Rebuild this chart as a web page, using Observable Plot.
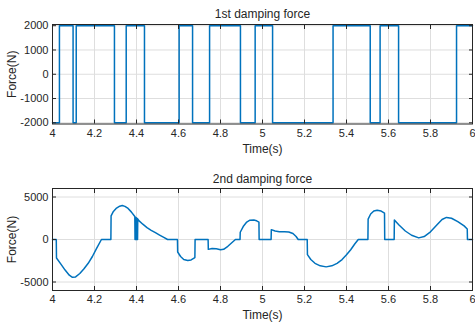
<!DOCTYPE html>
<html>
<head>
<meta charset="utf-8">
<script src="https://cdn.jsdelivr.net/npm/d3@7"></script>
<script src="https://cdn.jsdelivr.net/npm/@observablehq/plot@0.6"></script>
<style>
  html, body { margin: 0; padding: 0; background: white; }
  svg { display: block; }
</style>
</head>
<body>
<div id="chart"></div>
<script>
// ---- Data ----
const xTicks = [4, 4.2, 4.4, 4.6, 4.8, 5, 5.2, 5.4, 5.6, 5.8, 6];
const y1Ticks = [-2000, -1000, 0, 1000, 2000];
const y2Ticks = [-5000, 0, 5000];

// 1st damping force (step signal): switching times and levels
const t1 = [4, 4.033, 4.098, 4.113, 4.295, 4.351, 4.438, 4.603, 4.667, 4.748, 4.895, 4.965, 5.048, 5.336, 5.513, 5.560, 5.648, 5.924, 6];
const v1 = [-2000, 2000, -2000, 2000, -2000, 2000, -2000, 2000, -2000, 2000, -2000, 2000, -2000, 2000, -2000, 2000, -2000, 2000, 2000];

// 2nd damping force
const t2 = [4.000, 4.018, 4.019, 4.040, 4.060, 4.080, 4.095, 4.110, 4.130, 4.150, 4.170, 4.190, 4.210, 4.233,
  4.278, 4.279, 4.290, 4.305, 4.320, 4.332, 4.345, 4.360, 4.375, 4.392,
  4.393, 4.394, 4.395, 4.396, 4.397, 4.398, 4.399, 4.400, 4.401, 4.402, 4.403, 4.404, 4.405, 4.406,
  4.410, 4.430, 4.450, 4.470, 4.490, 4.510, 4.530, 4.548,
  4.595, 4.596, 4.610, 4.625, 4.644, 4.660, 4.678, 4.679,
  4.741, 4.742, 4.760, 4.780, 4.800, 4.815, 4.835, 4.855, 4.871,
  4.893, 4.894, 4.910, 4.925, 4.940, 4.959, 4.972, 4.983, 4.984,
  5.041, 5.042, 5.060, 5.080, 5.105, 5.125, 5.145, 5.160, 5.170,
  5.213, 5.214, 5.230, 5.250, 5.275, 5.303, 5.330, 5.355, 5.379, 5.400, 5.420, 5.440, 5.456,
  5.502, 5.503, 5.515, 5.530, 5.546, 5.565, 5.581, 5.582,
  5.627, 5.628, 5.650, 5.680, 5.710, 5.744, 5.770, 5.800, 5.830, 5.855, 5.876, 5.900, 5.930, 5.960, 5.975, 5.976, 6.000];
const v2 = [0, 0, -2170, -2900, -3600, -4200, -4450, -4400, -4000, -3450, -2800, -2000, -1050, 0,
  0, 2790, 3300, 3700, 3920, 3990, 3900, 3650, 3250, 2700,
  0, 2650, 0, 2620, 0, 2580, 0, 2550, 0, 2500, 0, 2470, 0, 2420,
  2250, 1800, 1400, 1080, 800, 520, 250, 0,
  0, -1470, -2000, -2350, -2480, -2400, -2130, 0,
  0, -1160, -1050, -1100, -1200, -1150, -800, -350, 0,
  0, 850, 1600, 2050, 2270, 2290, 2200, 2050, 0,
  0, 1160, 1000, 920, 900, 880, 700, 350, 0,
  0, -1780, -2350, -2800, -3100, -3220, -3100, -2800, -2360, -1800, -1200, -500, 0,
  0, 2400, 3000, 3350, 3450, 3350, 3100, 0,
  0, 2290, 1700, 1000, 500, 190, 350, 900, 1700, 2350, 2600, 2500, 2100, 1600, 1240, 0, 0];

const data1 = t1.map((t, i) => ({t, v: v1[i]}));
const data2 = t2.map((t, i) => ({t, v: v2[i]}));

const ink = "#262626";
const gridColor = "#dedede";
const lineColor = "#0072BD";
const fmtX = d => String(+d.toFixed(1));
const fmtY = d => String(d);
const blank = () => "";

function panel({data, yDomain, yTicks, title, height, marginTop, marginBottom, curve, titleDy, xLabelOffset}) {
  return Plot.plot({
    width: 475,
    height,
    marginLeft: 52,
    marginRight: 3,
    marginTop,
    marginBottom,
    style: {fontFamily: "'Liberation Sans', Arial, sans-serif", fontSize: "11px", color: ink, background: "white", overflow: "visible"},
    x: {domain: [4, 6]},
    y: {domain: yDomain},
    marks: [
      Plot.gridX(xTicks, {stroke: gridColor, strokeOpacity: 1, strokeWidth: 1}),
      Plot.gridY(yTicks, {stroke: gridColor, strokeOpacity: 1, strokeWidth: 1}),
      Plot.line(data, {x: "t", y: "v", stroke: lineColor, strokeWidth: 1.5, curve}),
      Plot.frame({stroke: ink, strokeWidth: 1}),
      // inward ticks
      Plot.axisX({ticks: xTicks, anchor: "bottom", tickSize: 4, dy: -4, tickFormat: blank, label: null, stroke: ink}),
      Plot.axisX({ticks: xTicks, anchor: "top", tickSize: 4, dy: 4, tickFormat: blank, label: null, stroke: ink}),
      Plot.axisY({ticks: yTicks, anchor: "left", tickSize: 4, dx: 4, tickFormat: blank, label: null, stroke: ink}),
      Plot.axisY({ticks: yTicks, anchor: "right", tickSize: 4, dx: -4, tickFormat: blank, label: null, stroke: ink}),
      // tick labels
      Plot.axisX({ticks: xTicks, anchor: "bottom", tickSize: 0, tickPadding: 5, tickFormat: fmtX, label: null, fill: ink, fontSize: 11}),
      Plot.axisY({ticks: yTicks, anchor: "left", tickSize: 0, tickPadding: 4, tickFormat: fmtY, label: null, fill: ink, fontSize: 11}),
      // axis titles
      Plot.axisX({ticks: xTicks, anchor: "bottom", tickSize: 0, tickFormat: blank, label: "Time(s)", labelAnchor: "center", labelArrow: "none", labelOffset: xLabelOffset, fill: ink, fontSize: 12}),
      Plot.axisY({ticks: yTicks, anchor: "left", tickSize: 0, tickFormat: blank, label: "Force(N)", labelAnchor: "center", labelArrow: "none", labelOffset: 45, fill: ink, fontSize: 12}),
      Plot.text([title], {frameAnchor: "top", lineAnchor: "middle", dy: titleDy, fill: ink, fontSize: 12})
    ]
  });
}

const chart = document.getElementById("chart");
chart.append(panel({data: data1, yDomain: [-2050, 2050], yTicks: y1Ticks, title: "1st damping force", height: 162, marginTop: 24, marginBottom: 38.5, curve: "step-after", titleDy: -10, xLabelOffset: 29}));
chart.append(panel({data: data2, yDomain: [-6000, 6000], yTicks: y2Ticks, title: "2nd damping force", height: 162, marginTop: 26, marginBottom: 34, curve: "linear", titleDy: -9, xLabelOffset: 28.5}));
</script>
</body>
</html>
